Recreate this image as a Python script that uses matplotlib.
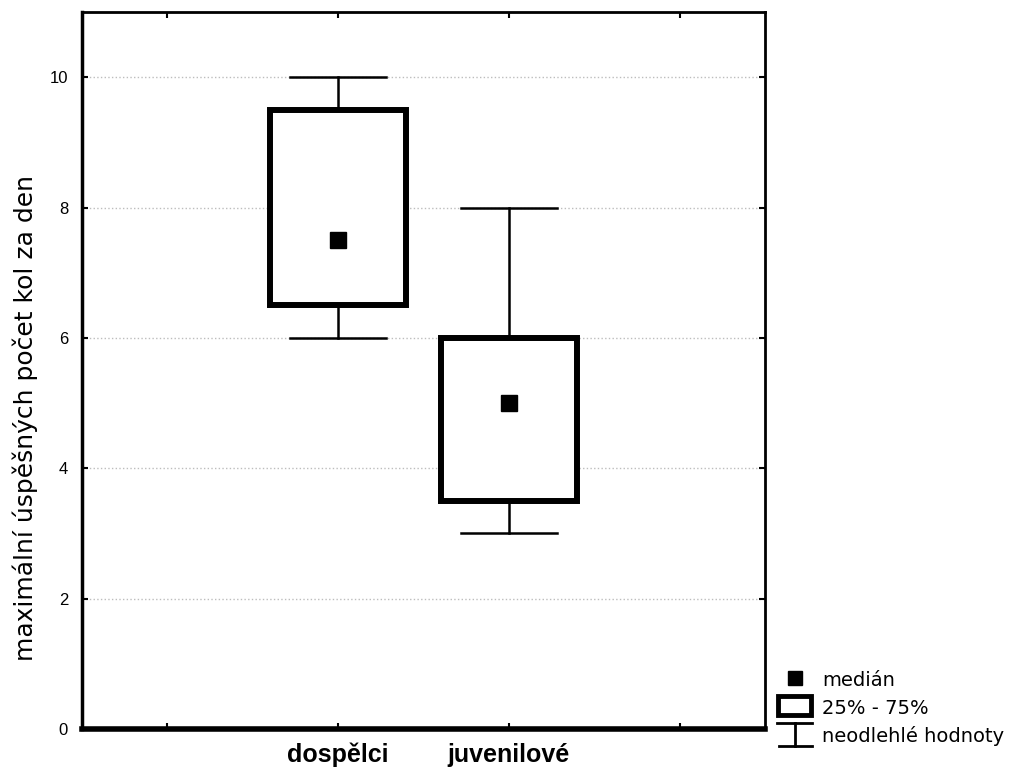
import matplotlib.pyplot as plt
from matplotlib.lines import Line2D
from matplotlib.patches import Rectangle

# data
groups = ['dospělci', 'juvenilové']
positions = [1, 2]
medians = [7.5, 5.0]
q1 = [6.5, 3.5]
q3 = [9.5, 6.0]
whisk_lo = [6.0, 3.0]
whisk_hi = [10.0, 8.0]

stats = []
for g, m, a, b, lo, hi in zip(groups, medians, q1, q3, whisk_lo, whisk_hi):
    stats.append(dict(label=g, med=m, q1=a, q3=b, whislo=lo, whishi=hi, fliers=[]))

fig = plt.figure(figsize=(10.11, 7.76), dpi=100)
ax = fig.add_axes([0.0811, 0.0606, 0.6756, 0.9239])

ax.yaxis.grid(True, linestyle=':', color='#bdbdbd', linewidth=1.0)
ax.set_axisbelow(True)

ax.bxp(stats, positions=positions, widths=0.8, capwidths=0.56,
       showfliers=False, patch_artist=True,
       boxprops=dict(facecolor='white', edgecolor='black', linewidth=4.3),
       whiskerprops=dict(color='black', linewidth=1.8),
       capprops=dict(color='black', linewidth=1.8),
       medianprops=dict(linewidth=0))
ax.plot(positions, medians, 's', color='black', markersize=11, zorder=5)

ax.set_xlim(-0.5, 3.5)
ax.set_ylim(0, 11)
ax.set_yticks([0, 2, 4, 6, 8, 10])
ax.set_xticks([0, 1, 2, 3])
ax.set_xticklabels(['', groups[0], groups[1], ''], fontsize=18, fontweight='bold',
                   family='Liberation Sans')
for lab in ax.get_yticklabels():
    lab.set_family('Liberation Sans')
    lab.set_fontsize(12)
ax.tick_params(direction='in', length=4, width=1.5, top=True, right=True)
ax.tick_params(axis='x', pad=10)
ax.tick_params(axis='y', pad=10)

ax.spines['left'].set_linewidth(2.5)
ax.spines['bottom'].set_linewidth(4)
ax.spines['top'].set_linewidth(2)
ax.spines['right'].set_linewidth(2)

ax.set_ylabel('maximální úspěšných počet kol za den', fontsize=18)
ax.yaxis.set_label_coords(-0.064, 0.434)

# legend drawn by hand, like the original
W, H = 1011, 776
def fx(px):
    return px / W
def fy(py):
    return 1 - py / H

fig.add_artist(Line2D([fx(795)], [fy(678)], marker='s', color='black',
                      markersize=10, transform=fig.transFigure))
fig.add_artist(Rectangle((fx(778), fy(715)), fx(811) - fx(778), fy(696) - fy(715),
                         facecolor='white', edgecolor='black', linewidth=3.5,
                         transform=fig.transFigure))
fig.add_artist(Line2D([fx(777), fx(812)], [fy(723), fy(723)], color='black', lw=2,
                      transform=fig.transFigure))
fig.add_artist(Line2D([fx(795), fx(795)], [fy(723), fy(746)], color='black', lw=2,
                      transform=fig.transFigure))
fig.add_artist(Line2D([fx(779), fx(812)], [fy(746), fy(746)], color='black', lw=2,
                      transform=fig.transFigure))

leg_texts = ['medián', '25% - 75%', 'neodlehlé hodnoty']
leg_y = [681, 709, 736]
for t, yy in zip(leg_texts, leg_y):
    fig.text(fx(822), fy(yy), t, fontsize=14, va='center', ha='left')

fig.savefig('out.png', dpi=100)
